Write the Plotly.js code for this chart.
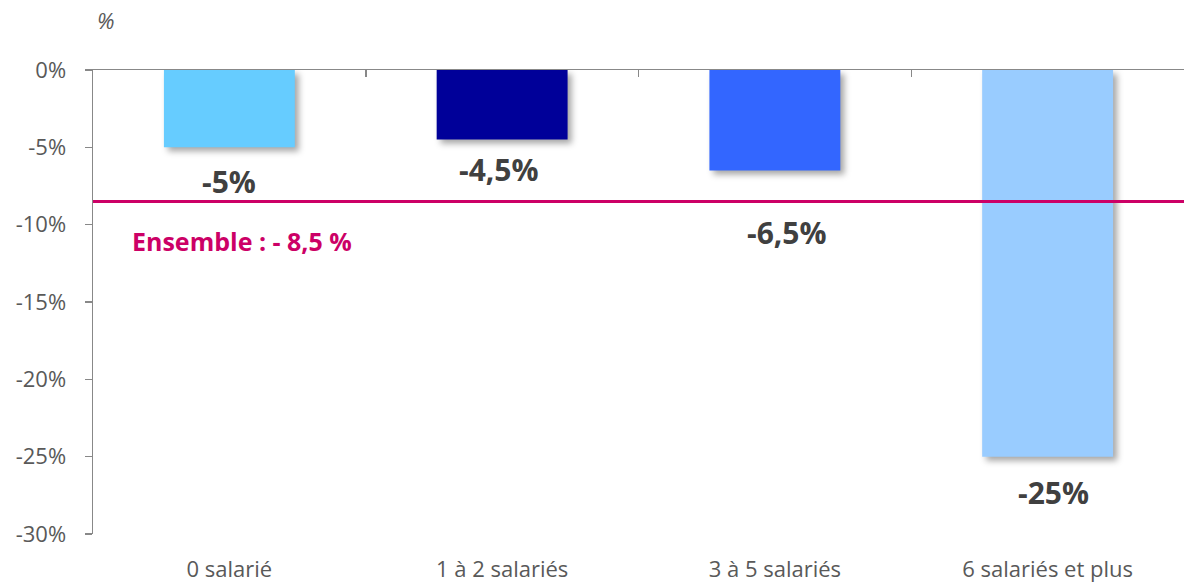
<!DOCTYPE html>
<html><head><meta charset="utf-8">
<script src="https://cdn.plot.ly/plotly-3.0.1.min.js"></script>
<style>html,body{margin:0;padding:0;background:#fff}#chart{width:1184px;height:582px}
.bars path{filter:drop-shadow(4px 4px 3px rgba(0,0,0,0.35));}</style>
</head><body><div id="chart"></div>
<script>
const categories = ["0 salarié", "1 à 2 salariés", "3 à 5 salariés", "6 salariés et plus"];
const values = [-5, -4.5, -6.5, -25];
const valueLabels = ["-5%", "-4,5%", "-6,5%", "-25%"];
const barColors = ["#66CCFF", "#000099", "#3366FF", "#99CCFF"];
const labelShift = [-34, -30, -62, -36];
const labelXShift = [0, -3, 12, 6];
const ensembleValue = -8.5;
const ensembleLabel = "Ensemble : - 8,5 %";
const yTickVals = [0, -5, -10, -15, -20, -25, -30];
const yTickText = ["0%", "-5%", "-10%", "-15%", "-20%", "-25%", "-30%"];

const font = "'Open Sans', sans-serif";
const traces = [
  {type: "bar", x: categories, y: values, marker: {color: barColors}, width: 0.48, hoverinfo: "none", showlegend: false},
  {type: "scatter", x: [categories[0], categories[categories.length-1]], y: [ensembleValue, ensembleValue], xaxis: "x2", mode: "none", showlegend: false, hoverinfo: "none"}
];
const annotations = categories.map((c, i) => ({
  x: c, y: values[i], xref: "x", yref: "y", text: valueLabels[i], showarrow: false,
  yanchor: "middle", yshift: labelShift[i], xshift: labelXShift[i],
  font: {family: font, size: 30, color: "#404040", weight: "bold"}
}));
annotations.push({x: 0.034, xref: "paper", y: -11.05, yref: "y", text: "<b>" + ensembleLabel + "</b>", showarrow: false, xanchor: "left", yanchor: "middle",
  font: {family: font, size: 25, color: "#CC0066"}});
annotations.push({x: 0.002, xref: "paper", y: 1, yref: "paper", yanchor: "middle", yshift: 50, text: "%", showarrow: false,
  font: {family: font, size: 22, color: "#595959", style: "italic"}});

const layout = {
  width: 1184, height: 582,
  margin: {l: 93, r: 0, t: 70, b: 48},
  paper_bgcolor: "#fff", plot_bgcolor: "#fff",
  xaxis: {type: "category", categoryarray: categories, range: [-0.5, 3.5], showline: false, ticks: "", showgrid: false, zeroline: false,
    tickfont: {family: font, size: 22, color: "#595959"}, ticklabelstandoff: 20, fixedrange: true},
  xaxis2: {type: "category", categoryarray: categories, range: [-0.5, 3.5], overlaying: "x", side: "top", anchor: "y",
    showline: true, linecolor: "#888888", linewidth: 1.5, ticks: "inside", ticklen: 7, tickcolor: "#888888", tickwidth: 1.5,
    tickson: "boundaries", showticklabels: false, showgrid: false, zeroline: false},
  yaxis: {range: [-30, 0], tickvals: yTickVals, ticktext: yTickText, showline: true, linecolor: "#888888", linewidth: 1.5,
    ticks: "outside", ticklen: 7, tickcolor: "#888888", tickwidth: 1.5, showgrid: false, zeroline: false,
    tickfont: {family: font, size: 22, color: "#595959"}, ticklabelstandoff: 14},
  shapes: [{type: "line", xref: "paper", x0: 0, x1: 1, yref: "y", y0: ensembleValue, y1: ensembleValue,
    line: {color: "#CC0066", width: 3}}],
  annotations: annotations
};
Plotly.newPlot("chart", traces, layout, {displayModeBar: false, staticPlot: true});
</script></body></html>
